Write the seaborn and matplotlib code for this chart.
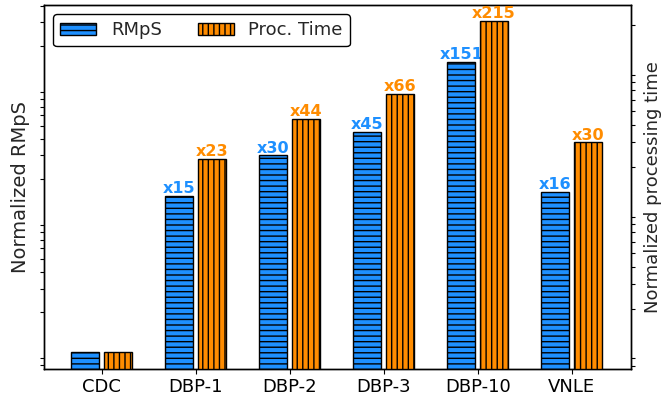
import numpy as np
import pandas as pd
import matplotlib
matplotlib.use("Agg")
import matplotlib.pyplot as plt
import seaborn as sns
from matplotlib.patches import Patch
from matplotlib.ticker import NullFormatter

# Schemes compared, normalised to the CDC baseline
categories = ["CDC", "DBP-1", "DBP-2", "DBP-3", "DBP-10", "VNLE"]
rmps = [1, 15, 30, 45, 151, 16]
proc_time = [1, 23, 44, 66, 215, 30]

blue = "#1e90ff"
orange = "#ff8c00"
bar_w = 0.3
offset = 0.175

sns.set_theme(style="ticks", rc={
    "axes.edgecolor": "black",
    "axes.linewidth": 1.0,
    "xtick.color": "black",
    "ytick.color": "black",
    "hatch.linewidth": 1.0,
})
plt.rcParams["font.family"] = ["DejaVu Sans"]

pos = np.arange(len(categories))
df_r = pd.DataFrame({"x": pos - offset, "v": rmps})
df_p = pd.DataFrame({"x": pos + offset, "v": proc_time})

fig, ax1 = plt.subplots(figsize=(6.69, 3.98), dpi=100)
fig.subplots_adjust(left=0.0658, right=0.9427, bottom=0.0741, top=0.9874)
ax2 = ax1.twinx()

sns.barplot(data=df_r, x="x", y="v", native_scale=True,
            width=bar_w, color=blue, saturation=1, edgecolor="black",
            linewidth=1.0, hatch="---", errorbar=None, ax=ax1)
sns.barplot(data=df_p, x="x", y="v", native_scale=True,
            width=bar_w, color=orange, saturation=1, edgecolor="black",
            linewidth=1.0, hatch="|||", errorbar=None, ax=ax2)

ax1.set_yscale("log")
ax2.set_yscale("log")
ax1.set_ylim(0.751, 406)
ax2.set_ylim(0.765, 278)
ax1.set_xlim(-0.614, 5.628)

# Keep only the minor log ticks, without labels
for ax in (ax1, ax2):
    ax.set_yticks([])
    ax.yaxis.set_minor_formatter(NullFormatter())
    ax.tick_params(axis="y", which="minor", length=3, width=0.8)

ax1.set_xticks(pos)
ax1.set_xticklabels(categories, fontsize=13)
ax1.tick_params(axis="x", length=3.5, width=0.8)
ax1.set_xlabel("")
ax2.set_xlabel("")
ax1.set_ylabel("Normalized RMpS", fontsize=14)
ax2.set_ylabel("Normalized processing time", fontsize=13, labelpad=3)

for x, v in zip(pos - offset, rmps):
    if v > 1:
        ax1.annotate(f"x{v}", (x, v), xytext=(0, 2), textcoords="offset points",
                     ha="center", va="baseline", fontsize=11.5, fontweight="bold",
                     color=blue)
for x, v in zip(pos + offset, proc_time):
    if v > 1:
        ax2.annotate(f"x{v}", (x, v), xytext=(0, 2), textcoords="offset points",
                     ha="center", va="baseline", fontsize=11.5, fontweight="bold",
                     color=orange)

handles = [
    Patch(facecolor=blue, edgecolor="black", hatch="---", label="RMpS"),
    Patch(facecolor=orange, edgecolor="black", hatch="|||", label="Proc. Time"),
]
ax2.legend(handles=handles, loc="upper left", ncol=2, fontsize=13,
           frameon=True, edgecolor="black", fancybox=True, framealpha=1)

fig.savefig("out.png", dpi=100)
